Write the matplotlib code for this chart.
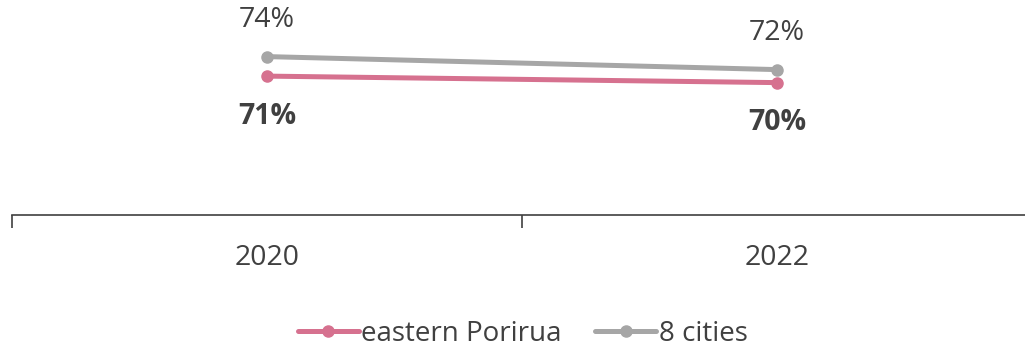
import matplotlib
matplotlib.use("Agg")
import matplotlib.pyplot as plt

years = ["2020", "2022"]
porirua = [71, 70]
cities = [74, 72]

pink = "#D6718F"
grey = "#A6A6A6"
txt = "#404040"

plt.rcParams['font.family'] = ['Open Sans', 'DejaVu Sans']

fig = plt.figure(figsize=(10.25, 3.5), dpi=100)
ax = fig.add_axes([12 / 1025, 1 - 215 / 350, 1020 / 1025, 215 / 350])

x = range(len(years))
ax.plot(x, porirua, color=pink, lw=3.6, marker="o", ms=8, label="eastern Porirua", solid_capstyle="round")
ax.plot(x, cities, color=grey, lw=3.6, marker="o", ms=8, label="8 cities", solid_capstyle="round")

for i, v in enumerate(cities):
    ax.annotate(f"{v}%", (i, v), xytext=(0, 26), textcoords="offset points",
                ha="center", va="center", fontsize=20.5, color=txt)
for i, v in enumerate(porirua):
    ax.annotate(f"{v}%", (i, v), xytext=(0, -29), textcoords="offset points",
                ha="center", va="center", fontsize=20.5, color=txt, fontweight="bold")

ax.set_xlim(-0.5, 1.5)
ax.set_ylim(49.65, 82.7)
for s in ["top", "right", "left"]:
    ax.spines[s].set_visible(False)
ax.spines["bottom"].set_color(txt)
ax.spines["bottom"].set_linewidth(1.2)
ax.set_yticks([])
ax.set_xticks([-0.5, 0.5, 1.5])
ax.set_xticks([0, 1], minor=True)
ax.set_xticklabels([])
ax.set_xticklabels(years, minor=True)
ax.tick_params(axis="x", which="major", length=9, width=1.2, color=txt, direction="out")
ax.tick_params(axis="x", which="minor", length=0, pad=21, labelsize=20.5, labelcolor=txt)

fig.legend(loc="lower center", bbox_to_anchor=(0.51, -0.065), ncol=2, frameon=False,
           fontsize=20, labelcolor=txt, handlelength=2.2, handletextpad=0.1, columnspacing=1.2)

fig.savefig("out.png", dpi=100)
